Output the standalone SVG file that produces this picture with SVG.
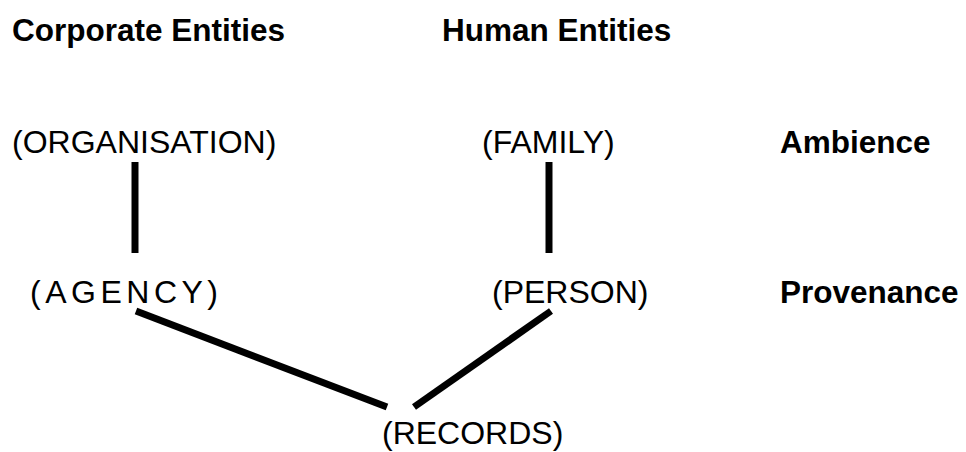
<svg xmlns="http://www.w3.org/2000/svg" width="966" height="452" viewBox="0 0 966 452">
<style>
text{font-family:"Liberation Sans",Arial,sans-serif;font-size:32px;fill:#000}
.b{font-weight:bold;font-size:31.5px}
.c line{stroke:#000;stroke-width:7}
</style>
<rect width="966" height="452" fill="#fff"/>
<g id="hdr-corporate"><text class="b" x="12" y="41">Corporate Entities</text></g>
<g id="hdr-human"><text class="b" x="442" y="41">Human Entities</text></g>
<g id="lbl-ambience"><text class="b" x="780" y="153">Ambience</text></g>
<g id="lbl-provenance"><text class="b" x="780" y="303">Provenance</text></g>
<g id="organisation"><text x="12" y="153">(ORGANISATION)</text></g>
<g id="family"><text x="482" y="153">(FAMILY)</text></g>
<g id="agency"><text x="30" y="303" textLength="188" lengthAdjust="spacing">(AGENCY)</text></g>
<g id="person"><text x="492" y="303">(PERSON)</text></g>
<g id="records"><text x="382" y="444">(RECORDS)</text></g>
<g id="connectors" class="c">
<line x1="135" y1="162" x2="135" y2="253"/>
<line x1="549" y1="162" x2="549" y2="253"/>
<line x1="136" y1="311" x2="387" y2="407"/>
<line x1="551" y1="311" x2="414" y2="407"/>
</g>
</svg>
